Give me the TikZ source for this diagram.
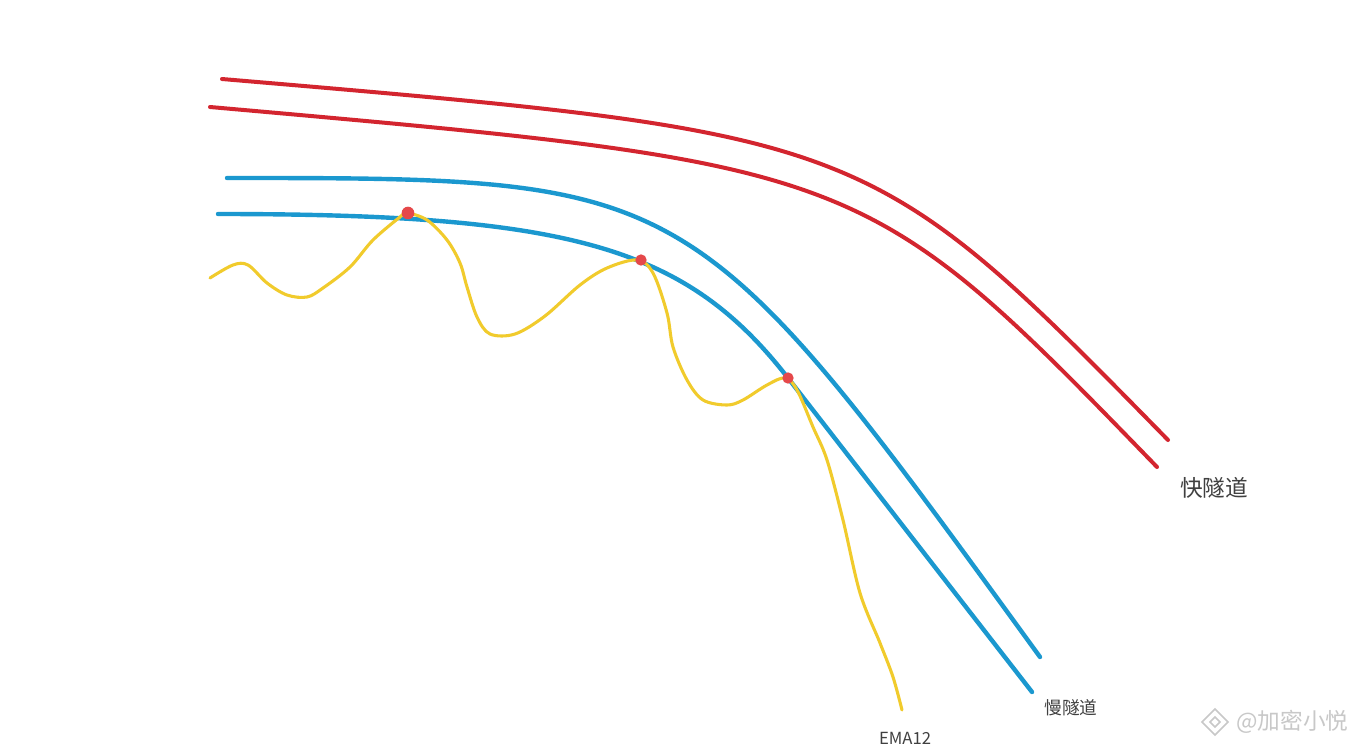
\documentclass[tikz,border=0pt]{standalone}
\usepackage{fontspec}
\setmainfont{Noto Sans CJK SC}
\definecolor{fastred}{HTML}{D3252F}
\definecolor{slowblue}{HTML}{1B98CF}
\definecolor{emayellow}{HTML}{F1CB2C}
\definecolor{dotred}{HTML}{E5484A}
\definecolor{labelgray}{HTML}{404040}
\definecolor{wmgray}{HTML}{C8C8C8}
\begin{document}
\begin{tikzpicture}[x=0.75pt,y=-0.75pt,
  redline/.style={draw=fastred,line width=3pt,line cap=round},
  blueline/.style={draw=slowblue,line width=3.3pt,line cap=round,line join=round},
  yellowline/.style={draw=emayellow,line width=2.3pt,line cap=round},
  touchdot/.style={circle,fill=dotred,inner sep=0pt,minimum size=8.5pt},
  lbl/.style={text=labelgray,inner sep=0pt}]
\useasboundingbox[fill=white] (0,0) rectangle (1364,750);
% fast tunnel (red)
\draw[redline] (222,79) .. controls (868,134) and (868,134) .. (1168,440);
\draw[redline] (210,107) .. controls (864,165) and (864,165) .. (1157,467);
% slow tunnel (blue)
\draw[blueline] (227,178) .. controls (692,178) and (692,178) .. (1040,657);
\draw[blueline] (218,214) .. controls (572,214) and (686,247) .. (788,378) -- (1032,692);
% EMA12 (yellow)
\draw[yellowline] plot[smooth,tension=0.55] coordinates {(210,278) (233,265) (248,265) (267,283) (287,295) (307,297) (323,288) (350,267) (373,240) (400,217) (407,213) (427,220) (447,240) (460,263) (467,287) (477,317) (490,334) (515,334) (545,316) (580,285) (607,268) (637,260) (653,273) (667,313) (673,347) (687,380) (703,400) (727,405) (743,400) (767,385) (785,378) (797,390) (813,427) (827,460) (843,520) (860,593) (880,643) (893,677) (902,710)};
% touch points
\node[touchdot,minimum size=9.5pt] (p1) at (408,213) {};
\node[touchdot] (p2) at (641,260) {};
\node[touchdot] (p3) at (788,378) {};
% labels
\node[lbl,font=\fontsize{17pt}{20pt}\selectfont] (fast) at (1214,488) {快隧道};
\node[lbl,font=\fontsize{13.3pt}{16pt}\selectfont] (slow) at (1071,708) {慢隧道};
\node[lbl,font=\fontsize{12.5pt}{15pt}\selectfont] (ema) at (905,738) {EMA12};
% watermark
\node[text=wmgray,inner sep=0pt,font=\fontsize{17pt}{20pt}\selectfont,anchor=west] (wm) at (1236,722) {@加密小悦};
\begin{scope}[shift={(1215,722)},draw=wmgray,line width=1.2pt]
\draw (0,-13) -- (13,0) -- (0,13) -- (-13,0) -- cycle;
\draw (0,-5) -- (5,0) -- (0,5) -- (-5,0) -- cycle;
\end{scope}
\end{tikzpicture}
\end{document}
